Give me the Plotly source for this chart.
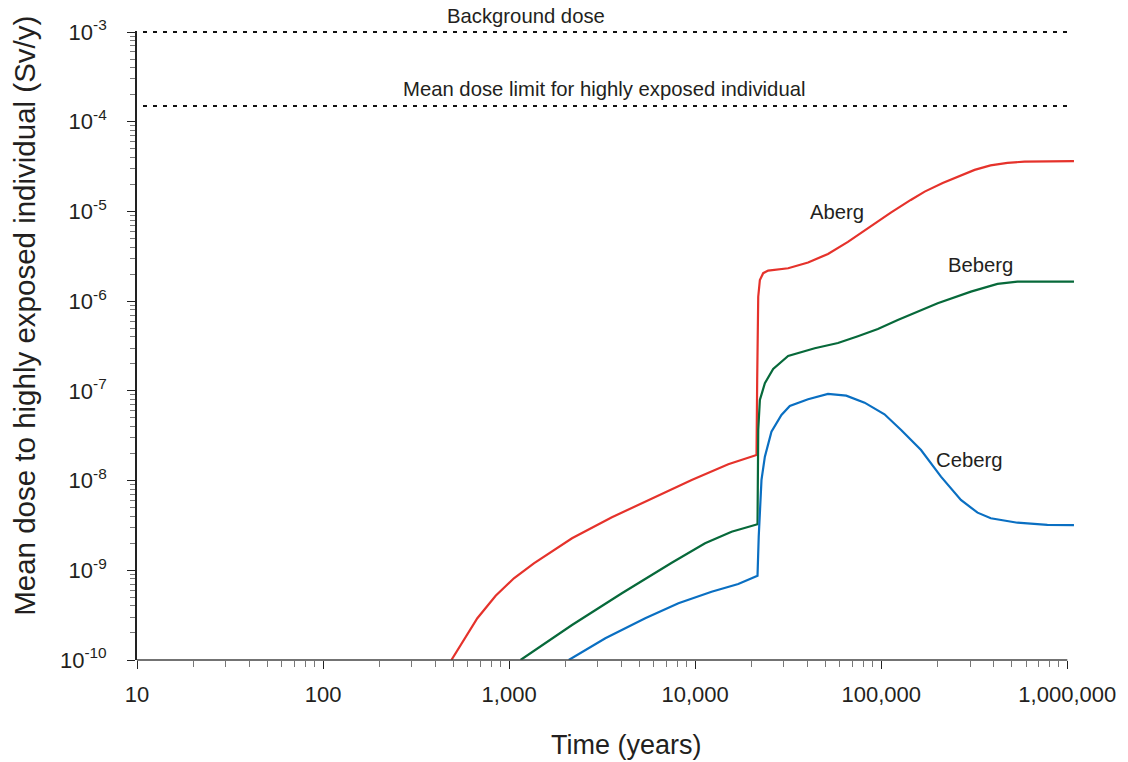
import plotly.graph_objects as go

# ---------------- data ----------------
aberg_t = [489.6, 674.8, 846.6, 1061, 1358, 2178, 3568, 5846, 9577, 15060, 21360,
           21540, 21820, 22270, 23200, 24680, 31590, 40440, 51730, 66220, 84750,
           112600, 144100, 171200, 213900, 257400, 317500, 386700, 476900, 588300,
           781300, 1086000]
aberg_d = [1e-10, 2.92e-10, 5.21e-10, 8.14e-10, 1.197e-9, 2.274e-9, 3.90e-9, 6.35e-9,
           1.016e-8, 1.52e-8, 1.93e-8,
           1.3e-7, 1.12e-6, 1.72e-6, 2.05e-6, 2.19e-6, 2.327e-6, 2.70e-6, 3.36e-6, 4.57e-6,
           6.55e-6, 9.70e-6, 1.343e-5, 1.662e-5, 2.078e-5, 2.424e-5, 2.902e-5, 3.257e-5,
           3.473e-5, 3.59e-5, 3.63e-5, 3.63e-5]

beberg_t = [1152, 2178, 4037, 7483, 11300, 15690, 21630,
            21700, 21820, 22270, 23690, 26250, 31590, 43900, 58540, 74920, 95900, 122700,
            201100, 303300, 421500, 539500, 1086000]
beberg_d = [1e-10, 2.456e-10, 5.54e-10, 1.215e-9, 2.0e-9, 2.694e-9, 3.258e-9,
            8.55e-9, 3.66e-8, 7.92e-8, 1.215e-7, 1.754e-7, 2.449e-7, 2.985e-7, 3.42e-7,
            4.07e-7, 4.90e-7, 6.17e-7, 9.47e-7, 1.276e-6, 1.555e-6, 1.65e-6, 1.65e-6]

ceberg_t = [2092, 3290, 5389, 8128, 12250, 17040, 21630,
            21950, 22720, 23690, 25700, 29080, 32250, 40440, 51730, 64850, 81380,
            104100, 127900, 163600, 209400, 268000, 329400, 388000, 539500, 781300, 1086000]
ceberg_d = [1e-10, 1.746e-10, 2.917e-10, 4.29e-10, 5.77e-10, 7.04e-10, 8.71e-10,
            2.35e-9, 1.016e-8, 1.846e-8, 3.51e-8, 5.39e-8, 6.79e-8, 8.06e-8, 9.23e-8,
            8.84e-8, 7.39e-8, 5.48e-8, 3.66e-8, 2.19e-8, 1.106e-8, 6.08e-9, 4.39e-9,
            3.80e-9, 3.39e-9, 3.20e-9, 3.18e-9]

reference_levels = [1e-3, 1.5e-4]
reference_names = ["Background dose", "Mean dose limit for highly exposed individual"]

x_tick_vals = [10, 100, 1000, 10000, 100000, 1000000]
x_tick_text = ["10", "100", "1,000", "10,000", "100,000", "1,000,000"]
y_tick_vals = [1e-10, 1e-9, 1e-8, 1e-7, 1e-6, 1e-5, 1e-4, 1e-3]
y_tick_text = ["10<sup>-10</sup>", "10<sup>-9</sup>", "10<sup>-8</sup>", "10<sup>-7</sup>",
               "10<sup>-6</sup>", "10<sup>-5</sup>", "10<sup>-4</sup>", "10<sup>-3</sup>"]

# ---------------- styling ----------------
FONT = "Liberation Sans, Arial, Helvetica, sans-serif"
TXT = "#231f20"
AX = "#222222"
MINOR = "#777777"

x_minor = [m * 10 ** e for e in range(1, 6) for m in range(2, 10)]
y_minor = [m * 10.0 ** e for e in range(-10, -3) for m in range(2, 10)]

fig = go.Figure()

for lvl in reference_levels:
    fig.add_trace(go.Scatter(x=[x_tick_vals[0], x_tick_vals[-1]], y=[lvl, lvl], mode="lines",
                             line=dict(color="#111111", width=2, dash="0px,6px,4px,0px"),
                             showlegend=False, hoverinfo="skip"))

fig.add_trace(go.Scatter(x=aberg_t, y=aberg_d, mode="lines", name="Aberg",
                         line=dict(color="#e5322b", width=2.2), showlegend=False))
fig.add_trace(go.Scatter(x=beberg_t, y=beberg_d, mode="lines", name="Beberg",
                         line=dict(color="#07693a", width=2.2), showlegend=False))
fig.add_trace(go.Scatter(x=ceberg_t, y=ceberg_d, mode="lines", name="Ceberg",
                         line=dict(color="#0a6fc2", width=2.2), showlegend=False))

# bottom axis line only from 10 to 1,000,000
fig.add_shape(type="line", xref="x", yref="paper", x0=x_tick_vals[0], x1=x_tick_vals[-1],
              y0=0, y1=0, line=dict(color="#444444", width=1.5))

LBL = 20.3
annots = [
    dict(text="Aberg", x=0.7468, y=0.7118),
    dict(text="Beberg", x=0.900, y=0.6274),
    dict(text="Ceberg", x=0.888, y=0.3185),
    dict(text=reference_names[0], x=0.4149, y=1.0239),
    dict(text=reference_names[1], x=0.4984, y=0.9076),
]
for a in annots:
    fig.add_annotation(xref="paper", yref="paper", x=a["x"], y=a["y"], text=a["text"],
                       showarrow=False, xanchor="center", yanchor="middle",
                       font=dict(family=FONT, size=LBL, color=TXT))

fig.add_annotation(xref="paper", yref="paper", x=0.5223, y=-0.1354, text="Time (years)",
                   showarrow=False, xanchor="center", yanchor="middle",
                   font=dict(family=FONT, size=27, color=TXT))
fig.add_annotation(xref="paper", yref="paper", x=-0.1202, y=0.5478,
                   text="Mean dose to highly exposed individual (Sv/y)", textangle=-90,
                   showarrow=False, xanchor="center", yanchor="middle",
                   font=dict(family=FONT, size=29.5, color=TXT))

fig.update_layout(
    width=1128, height=762,
    margin=dict(l=137, r=51, t=31, b=102),
    paper_bgcolor="white", plot_bgcolor="white",
    font=dict(family=FONT, color=TXT),
    xaxis=dict(type="log", range=[1, 6.036], tickmode="array", tickvals=x_tick_vals,
               ticktext=x_tick_text, ticks="outside", ticklen=8, tickwidth=1.2, tickcolor=AX,
               showline=False, showgrid=False, zeroline=False,
               tickfont=dict(family=FONT, size=22, color=TXT), ticklabelstandoff=7,
               minor=dict(tickmode="array", tickvals=x_minor, ticks="outside", ticklen=6,
                          tickwidth=1, tickcolor=MINOR, showgrid=False)),
    yaxis=dict(type="log", range=[-10, -2.9889], tickmode="array", tickvals=y_tick_vals,
               ticktext=y_tick_text, ticks="outside", ticklen=8, tickwidth=1.2, tickcolor=AX,
               showline=True, linecolor=AX, linewidth=1.8, showgrid=False, zeroline=False,
               tickfont=dict(family=FONT, size=22, color=TXT), ticklabelstandoff=16,
               minor=dict(tickmode="array", tickvals=y_minor, ticks="outside", ticklen=5,
                          tickwidth=1, tickcolor=MINOR, showgrid=False)),
)

fig.write_html("out.html")
